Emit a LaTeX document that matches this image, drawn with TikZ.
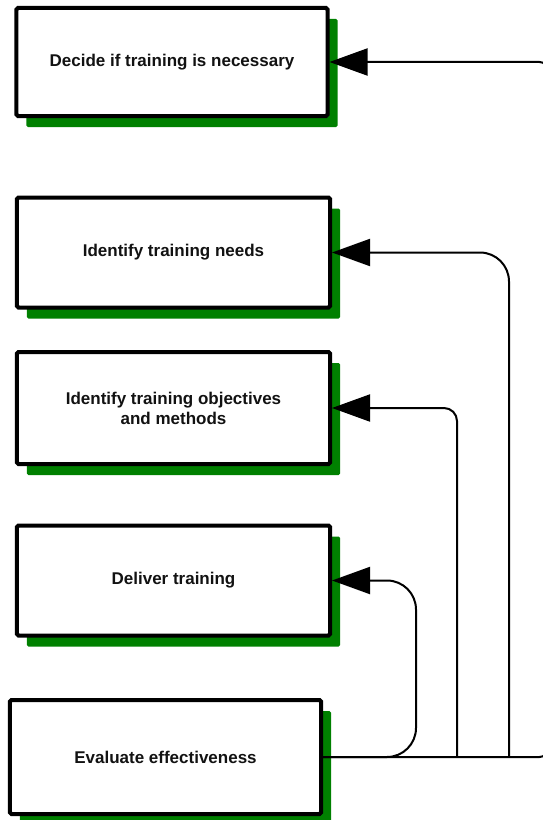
\documentclass[tikz,border=0pt]{standalone}
\usepackage{fontspec}
\setmainfont{Liberation Sans}
\usetikzlibrary{arrows.meta,shadows}
\definecolor{shgreen}{RGB}{0,128,0}
\begin{document}
\begin{tikzpicture}[x=1bp,y=-1bp,
  stepbox/.style={draw=black, line width=4bp, fill=white, rounded corners=1.5bp,
    general shadow={fill=shgreen, shadow xshift=10bp, shadow yshift=-11bp},
    align=center, font=\fontsize{17bp}{20bp}\selectfont\bfseries, text=black!93,
    inner sep=0pt},
  conn/.style={line width=2bp, -{Triangle[length=38bp,width=27bp]}},
]
\useasboundingbox (0,0) rectangle (543,820);
\clip (0,0) rectangle (543,820);

\node[stepbox, minimum width=311bp, minimum height=108bp] (b1) at (172,62) {Decide if training is necessary};
\node[stepbox, minimum width=313bp, minimum height=110bp] (b2) at (173.5,252.5) {Identify training needs};
\node[stepbox, minimum width=313bp, minimum height=112bp] (b3) at (173.5,408) {Identify training objectives\\and methods};
\node[stepbox, minimum width=313bp, minimum height=110bp] (b4) at (173.5,580.5) {Deliver training};
\node[stepbox, minimum width=311bp, minimum height=114bp] (b5) at (165.5,757) {Evaluate effectiveness};

\coordinate (j2) at (509,757);
\coordinate (j3) at (457,757);

\draw[conn, rounded corners=8bp] (b5.east) -| ([xshift=218bp]b1.east) -- (b1.east);
\draw[conn, rounded corners=29bp] (j2) |- (b2.east);
\draw[conn, rounded corners=13bp] (j3) |- (b3.east);
\draw[conn, rounded corners=29bp] (b5.east) -| ([xshift=84bp]b4.east) -- (b4.east);
\end{tikzpicture}
\end{document}
